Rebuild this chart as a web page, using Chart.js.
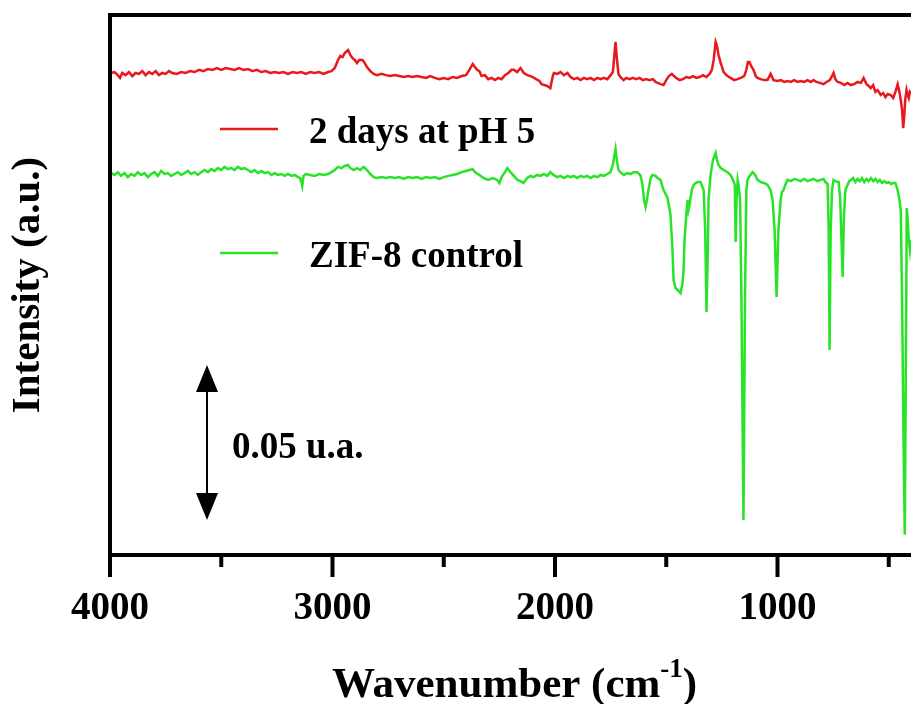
<!DOCTYPE html>
<html>
<head>
<meta charset="utf-8">
<script src="https://cdn.jsdelivr.net/npm/chart.js@4"></script>
<style>
  html, body { margin: 0; padding: 0; background: #fff; }
</style>
</head>
<body>
<canvas id="ftirChart" width="911" height="704"></canvas>
<script>
const seriesLabels = ['2 days at pH 5', 'ZIF-8 control'];
const seriesColors = ['#e8191c', '#29e329'];
const xTickValues = [4000, 3000, 2000, 1000];
const xMinorTicks = [3500, 2500, 1500, 500];
const scaleBarSize = 0.05;

// 2 days at pH 5
const phWavenumber = [3995,3980,3965,3955,3945,3930,3915,3900,3885,3870,3855,3840,3825,3810,3795,3780,3765,3750,3735,3720,
  3700,3680,3660,3640,3620,3600,3580,3560,3540,3520,3500,3480,3460,3440,3420,3400,3380,3360,3340,3320,
  3300,3280,3260,3240,3220,3200,3180,3160,3140,3120,3100,3080,3060,3040,3020,3005,2990,2975,2965,2955,
  2945,2930,2920,2910,2900,2890,2880,2865,2855,2845,2830,2815,2800,2780,2760,2740,2720,2700,2680,2660,
  2640,2620,2600,2580,2560,2540,2520,2500,2480,2460,2440,2420,2400,2385,2370,2360,2350,2340,2330,2315,
  2300,2285,2270,2255,2240,2225,2210,2195,2185,2170,2155,2140,2125,2110,2100,2085,2070,2060,2035,2021,
  2010,2005,1990,1975,1960,1944,1930,1915,1900,1885,1870,1855,1840,1825,1810,1795,1780,1765,1750,1740,
  1733,1728,1722,1715,1706,1692,1680,1665,1650,1635,1620,1605,1590,1575,1560,1548,1539,1525,1512,1500,
  1488,1475,1465,1455,1440,1425,1410,1395,1380,1365,1350,1335,1320,1305,1295,1287,1278,1272,1265,1255,
  1242,1225,1211,1195,1180,1165,1150,1140,1133,1126,1118,1108,1098,1090,1075,1060,1045,1031,1018,1000,
  985,970,955,940,925,910,896,880,865,850,838,825,810,793,780,765,755,748,740,730,
  715,700,685,671,655,640,625,613,600,590,581,570,560,550,536,525,515,505,491,480,
  470,460,452,446,440,435,430,426,420,415,410,405,401];
const phIntensity = [0.1555,0.1558,0.1548,0.1539,0.1555,0.1548,0.1558,0.1545,0.1555,0.1552,0.1561,0.1548,0.1558,0.1552,0.1561,0.1548,0.1555,0.1552,0.1561,0.1555,
  0.1552,0.1558,0.1555,0.1561,0.1558,0.1565,0.1561,0.1568,0.1565,0.1571,0.1565,0.1571,0.1568,0.1565,0.1571,0.1565,0.1568,0.1561,0.1565,0.1558,
  0.1561,0.1555,0.1558,0.1555,0.1558,0.1552,0.1558,0.1555,0.1558,0.1552,0.1558,0.1555,0.1558,0.1552,0.1558,0.1561,0.1571,0.1597,0.1610,0.1606,
  0.1619,0.1629,0.1613,0.1603,0.1597,0.1587,0.1597,0.1597,0.1587,0.1574,0.1561,0.1552,0.1548,0.1552,0.1548,0.1545,0.1548,0.1545,0.1542,0.1545,
  0.1542,0.1545,0.1542,0.1539,0.1545,0.1539,0.1535,0.1539,0.1535,0.1542,0.1539,0.1545,0.1548,0.1565,0.1584,0.1574,0.1565,0.1561,0.1545,0.1548,
  0.1535,0.1539,0.1532,0.1539,0.1535,0.1548,0.1555,0.1565,0.1565,0.1558,0.1571,0.1555,0.1548,0.1545,0.1542,0.1535,0.1529,0.1519,0.1513,0.1506,
  0.1545,0.1555,0.1552,0.1558,0.1548,0.1555,0.1542,0.1535,0.1539,0.1532,0.1539,0.1535,0.1539,0.1532,0.1539,0.1535,0.1539,0.1535,0.1548,0.1558,
  0.1613,0.1655,0.1603,0.1552,0.1542,0.1532,0.1539,0.1535,0.1539,0.1535,0.1539,0.1532,0.1535,0.1532,0.1535,0.1526,0.1523,0.1519,0.1516,0.1532,
  0.1545,0.1552,0.1545,0.1539,0.1532,0.1535,0.1542,0.1539,0.1545,0.1539,0.1542,0.1548,0.1542,0.1552,0.1565,0.1597,0.1655,0.1642,0.1613,0.1587,
  0.1558,0.1545,0.1539,0.1532,0.1535,0.1539,0.1545,0.1565,0.1590,0.1590,0.1577,0.1565,0.1545,0.1539,0.1535,0.1532,0.1532,0.1552,0.1532,0.1529,
  0.1532,0.1526,0.1529,0.1526,0.1532,0.1526,0.1529,0.1526,0.1532,0.1526,0.1532,0.1526,0.1523,0.1519,0.1526,0.1532,0.1545,0.1555,0.1535,0.1526,
  0.1523,0.1516,0.1523,0.1516,0.1519,0.1526,0.1523,0.1539,0.1519,0.1513,0.1506,0.1516,0.1494,0.1500,0.1484,0.1490,0.1477,0.1487,0.1484,0.1474,
  0.1494,0.1519,0.1494,0.1468,0.1435,0.1377,0.1419,0.1468,0.1500,0.1484,0.1474,0.1494,0.1490];

// ZIF-8 control
const zifWavenumber = [3995,3980,3965,3950,3935,3920,3905,3890,3875,3860,3845,3830,3815,3800,3785,3770,3755,3740,3725,3710,
  3695,3680,3665,3650,3635,3620,3605,3590,3575,3560,3545,3530,3515,3500,3485,3470,3455,3440,3425,3410,
  3395,3380,3365,3350,3335,3320,3305,3290,3275,3260,3245,3230,3215,3200,3185,3170,3155,3145,3140,3136,
  3130,3120,3100,3080,3060,3040,3020,3005,2990,2975,2960,2945,2930,2920,2905,2890,2875,2860,2845,2830,
  2815,2800,2780,2760,2740,2720,2700,2680,2660,2640,2620,2600,2580,2560,2540,2520,2500,2480,2460,2440,
  2420,2400,2385,2370,2360,2340,2320,2300,2280,2260,2250,2240,2225,2214,2200,2185,2169,2155,2142,2125,
  2110,2097,2080,2066,2050,2035,2021,2007,1990,1976,1960,1944,1930,1915,1900,1885,1870,1855,1840,1825,
  1810,1795,1780,1765,1751,1740,1733,1728,1722,1715,1706,1692,1674,1660,1647,1629,1615,1607,1600,1593,
  1587,1580,1570,1562,1548,1539,1526,1512,1494,1481,1472,1467,1458,1449,1436,1428,1422,1418,1410,1404,
  1400,1395,1391,1385,1377,1368,1359,1346,1332,1325,1319,1313,1310,1301,1290,1278,1272,1265,1255,1242,
  1225,1211,1200,1192,1188,1184,1179,1175,1168,1162,1153,1146,1140,1135,1125,1112,1100,1090,1075,1060,
  1045,1031,1022,1013,1004,996,986,980,973,965,955,940,925,910,896,880,865,850,838,820,
  806,793,785,775,770,766,761,755,748,740,730,725,718,711,707,702,695,685,678,670,
  660,650,640,630,620,610,600,590,580,570,560,550,540,530,520,510,500,490,480,470,
  460,452,446,440,433,428,424,419,415,410,405,401];
const zifIntensity = [0.1232,0.1226,0.1235,0.1223,0.1232,0.1219,0.1229,0.1223,0.1235,0.1226,0.1232,0.1219,0.1229,0.1235,0.1223,0.1239,0.1229,0.1232,0.1223,0.1229,
  0.1235,0.1226,0.1232,0.1239,0.1229,0.1235,0.1226,0.1235,0.1242,0.1235,0.1245,0.1239,0.1248,0.1242,0.1252,0.1245,0.1248,0.1242,0.1252,0.1245,
  0.1248,0.1242,0.1235,0.1242,0.1232,0.1239,0.1232,0.1235,0.1226,0.1232,0.1226,0.1229,0.1223,0.1229,0.1223,0.1226,0.1219,0.1216,0.1203,0.1190,
  0.1223,0.1229,0.1226,0.1223,0.1229,0.1226,0.1229,0.1235,0.1242,0.1252,0.1248,0.1255,0.1258,0.1248,0.1242,0.1248,0.1242,0.1252,0.1242,0.1229,
  0.1219,0.1216,0.1219,0.1216,0.1219,0.1216,0.1219,0.1213,0.1219,0.1216,0.1219,0.1213,0.1219,0.1216,0.1219,0.1213,0.1219,0.1223,0.1226,0.1229,
  0.1235,0.1239,0.1242,0.1245,0.1235,0.1226,0.1216,0.1210,0.1216,0.1210,0.1200,0.1219,0.1235,0.1248,0.1235,0.1223,0.1210,0.1206,0.1200,0.1216,
  0.1223,0.1219,0.1226,0.1223,0.1229,0.1223,0.1235,0.1226,0.1219,0.1223,0.1216,0.1223,0.1219,0.1223,0.1216,0.1223,0.1219,0.1223,0.1216,0.1223,
  0.1219,0.1226,0.1223,0.1229,0.1235,0.1258,0.1290,0.1310,0.1274,0.1242,0.1235,0.1226,0.1232,0.1229,0.1235,0.1235,0.1223,0.1194,0.1145,0.1123,
  0.1145,0.1177,0.1216,0.1226,0.1223,0.1216,0.1210,0.1177,0.1152,0.1097,0.0984,0.0887,0.0861,0.0855,0.0845,0.0871,0.0919,0.1016,0.1097,0.1145,
  0.1113,0.1129,0.1152,0.1177,0.1194,0.1200,0.1203,0.1203,0.1177,0.1048,0.0784,0.0984,0.1145,0.1226,0.1274,0.1297,0.1274,0.1258,0.1248,0.1242,
  0.1235,0.1226,0.1210,0.1194,0.1010,0.1145,0.1210,0.1194,0.1145,0.0823,0.0113,0.0823,0.1177,0.1210,0.1223,0.1235,0.1226,0.1210,0.1203,0.1200,
  0.1194,0.1177,0.1145,0.1048,0.0832,0.1048,0.1145,0.1171,0.1177,0.1194,0.1210,0.1206,0.1213,0.1210,0.1206,0.1213,0.1206,0.1210,0.1213,0.1206,
  0.1210,0.1213,0.1203,0.1197,0.1048,0.0661,0.1048,0.1177,0.1210,0.1206,0.1203,0.1203,0.1145,0.0984,0.0897,0.1081,0.1177,0.1194,0.1206,0.1210,
  0.1216,0.1203,0.1213,0.1206,0.1216,0.1203,0.1213,0.1206,0.1216,0.1206,0.1213,0.1203,0.1210,0.1200,0.1206,0.1200,0.1203,0.1197,0.1200,0.1200,
  0.1177,0.1145,0.1113,0.0823,0.0339,0.0065,0.0500,0.1119,0.1081,0.1016,0.0984,0.1016];

const toPoints = (xs, ys) => xs.map((x, i) => ({ x: x, y: ys[i] }));
const serif = '"Liberation Serif", "Times New Roman", serif';

// frame, tick marks, legend, scale bar and x title
const decor = {
  id: 'decor',
  afterDraw(chart) {
    const { ctx, chartArea: a, scales: { x, y } } = chart;
    ctx.save();
    ctx.strokeStyle = '#000';
    ctx.fillStyle = '#000';
    ctx.lineWidth = 4;
    ctx.lineJoin = 'miter';
    ctx.beginPath();
    ctx.moveTo(a.right + 4, a.top);
    ctx.lineTo(a.left, a.top);
    ctx.lineTo(a.left, a.bottom);
    ctx.lineTo(a.right + 4, a.bottom);
    ctx.stroke();

    ctx.beginPath();
    xTickValues.forEach(v => {
      const px = x.getPixelForValue(v);
      ctx.moveTo(px, a.bottom);
      ctx.lineTo(px, a.bottom + 22);
    });
    xMinorTicks.forEach(v => {
      const px = x.getPixelForValue(v);
      ctx.moveTo(px, a.bottom);
      ctx.lineTo(px, a.bottom + 12);
    });
    ctx.stroke();

    // legend
    ctx.font = 'bold 37px ' + serif;
    ctx.textBaseline = 'alphabetic';
    ctx.textAlign = 'left';
    chart.data.datasets.forEach((ds, i) => {
      const ly = a.top + 114 + i * 124;
      ctx.strokeStyle = ds.borderColor;
      ctx.lineWidth = 2.5;
      ctx.beginPath();
      ctx.moveTo(a.left + 110, ly);
      ctx.lineTo(a.left + 168, ly);
      ctx.stroke();
      ctx.fillText(ds.label, a.left + 199, ly + 14);
    });

    // scale bar
    const bx = x.getPixelForValue(3564);
    const yLow = y.getPixelForValue(0.0113);
    const yHigh = y.getPixelForValue(0.0113 + scaleBarSize);
    ctx.strokeStyle = '#000';
    ctx.lineWidth = 2;
    ctx.beginPath();
    ctx.moveTo(bx, yHigh + 20);
    ctx.lineTo(bx, yLow - 20);
    ctx.stroke();
    ctx.beginPath();
    ctx.moveTo(bx, yHigh);
    ctx.lineTo(bx - 11, yHigh + 27);
    ctx.lineTo(bx + 11, yHigh + 27);
    ctx.closePath();
    ctx.moveTo(bx, yLow);
    ctx.lineTo(bx - 11, yLow - 27);
    ctx.lineTo(bx + 11, yLow - 27);
    ctx.closePath();
    ctx.fill();
    ctx.font = 'bold 37px ' + serif;
    ctx.fillText(scaleBarSize.toFixed(2) + ' u.a.', bx + 25, (yLow + yHigh) / 2 + 16);

    // x axis title with superscript
    const main = 'bold 43px ' + serif;
    const sup = 'bold 27px ' + serif;
    ctx.font = main;
    const w1 = ctx.measureText('Wavenumber (cm').width;
    const w3 = ctx.measureText(')').width;
    ctx.font = sup;
    const w2 = ctx.measureText('-1').width;
    let tx = (a.left + a.right) / 2 + 4 - (w1 + w2 + w3) / 2;
    const ty = 697;
    ctx.font = main;
    ctx.fillText('Wavenumber (cm', tx, ty);
    tx += w1;
    ctx.font = sup;
    ctx.fillText('-1', tx, ty - 20);
    tx += w2;
    ctx.font = main;
    ctx.fillText(')', tx, ty);
    ctx.restore();
  }
};

Chart.defaults.font.family = serif;
Chart.defaults.color = '#000';

const ctx = document.getElementById('ftirChart');
const ftirChart = new Chart(ctx, {
  type: 'line',
  data: {
    datasets: [{
      label: seriesLabels[0],
      data: toPoints(phWavenumber, phIntensity),
      borderColor: seriesColors[0],
      borderWidth: 2.5,
      pointRadius: 0,
      fill: false,
      tension: 0
    }, {
      label: seriesLabels[1],
      data: toPoints(zifWavenumber, zifIntensity),
      borderColor: seriesColors[1],
      borderWidth: 2.5,
      pointRadius: 0,
      fill: false,
      tension: 0
    }]
  },
  options: {
    responsive: false,
    animation: false,
    events: [],
    layout: { padding: { top: 15, right: 0, bottom: 0, left: 0 } },
    plugins: {
      legend: { display: false },
      tooltip: { enabled: false }
    },
    scales: {
      x: {
        type: 'linear',
        reverse: true,
        min: 400,
        max: 4000,
        afterBuildTicks: scale => { scale.ticks = xTickValues.map(v => ({ value: v })); },
        afterFit: scale => { scale.height = 149; },
        grid: { display: false, drawTicks: false },
        border: { display: false },
        ticks: {
          autoSkip: false,
          maxRotation: 0,
          padding: 31,
          font: { size: 39, weight: 'bold' },
          color: '#000',
          callback: v => String(v)
        }
      },
      y: {
        min: 0,
        max: 0.1742,
        afterFit: scale => { scale.width = 110; },
        grid: { display: false, drawTicks: false },
        border: { display: false },
        ticks: { display: false },
        title: {
          display: true,
          text: 'Intensity (a.u.)',
          font: { size: 41, weight: 'bold' },
          color: '#000',
          padding: { top: 4, bottom: 0 }
        }
      }
    }
  },
  plugins: [decor]
});
</script>
</body>
</html>
